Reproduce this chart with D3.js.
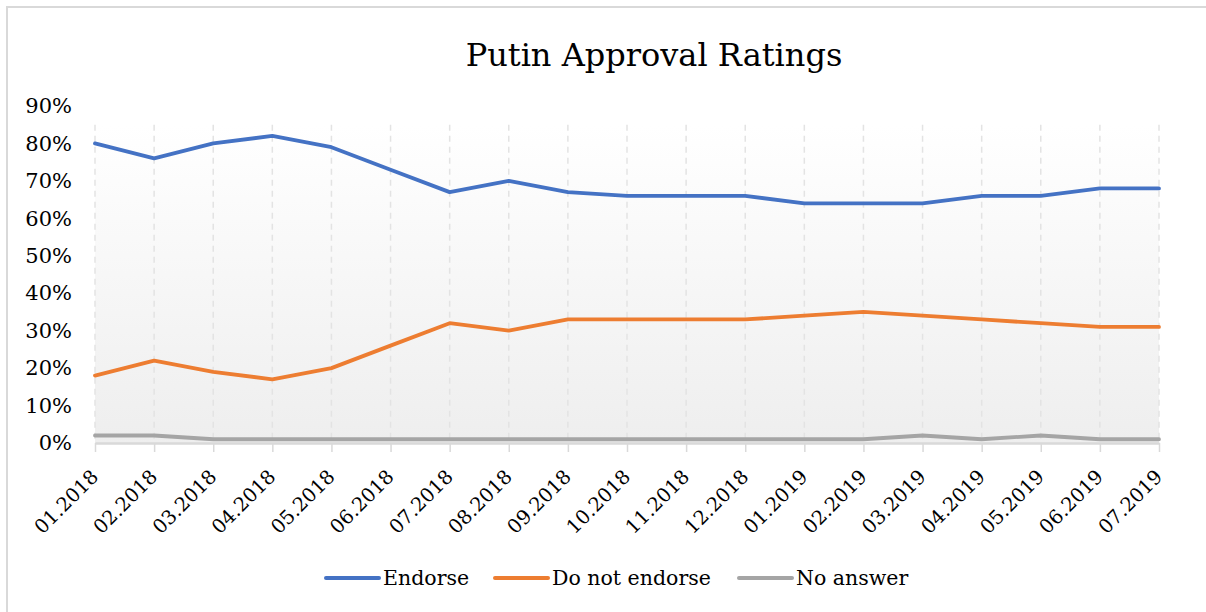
<!DOCTYPE html>
<html><head><meta charset="utf-8">
<script src="https://cdn.jsdelivr.net/npm/d3@7/dist/d3.min.js"></script>
<style>html,body{margin:0;padding:0;background:#fff;}svg{display:block;}</style>
</head><body>
<svg id="c" width="1206" height="612"></svg>
<script>
const categories = ["01.2018","02.2018","03.2018","04.2018","05.2018","06.2018","07.2018","08.2018","09.2018","10.2018","11.2018","12.2018","01.2019","02.2019","03.2019","04.2019","05.2019","06.2019","07.2019"];
const endorse    = [80,76,80,82,79,73,67,70,67,66,66,66,64,64,64,66,66,68,68];
const notEndorse = [18,22,19,17,20,26,32,30,33,33,33,33,34,35,34,33,32,31,31];
const noAnswer   = [2,2,1,1,1,1,1,1,1,1,1,1,1,1,2,1,2,1,1];
const yTicks = [0,10,20,30,40,50,60,70,80,90];
const seriesNames = ["Endorse","Do not endorse","No answer"];
const seriesColors = ["#4472C4","#ED7D31","#A5A5A5"];
const title = "Putin Approval Ratings";

const FONT = "'DejaVu Serif', serif";
const svg = d3.select("#c");

// chart border
svg.append("path").attr("d","M7,612 L7,7 L1206,7").attr("fill","none").attr("stroke","#d9d9d9").attr("stroke-width",2);

const x = d3.scalePoint().domain(categories).range([95,1159]);
const y = d3.scaleLinear().domain([0,90]).range([443,106]);

// gradient background
const defs = svg.append("defs");
const g = defs.append("linearGradient").attr("id","bg").attr("x1",0).attr("y1",0).attr("x2",0).attr("y2",1);
g.append("stop").attr("offset","0%").attr("stop-color","#ffffff");
g.append("stop").attr("offset","100%").attr("stop-color","#eeeeee");
svg.append("rect").attr("x",x(categories[0])).attr("y",y(85))
  .attr("width",x(categories[categories.length-1])-x(categories[0]))
  .attr("height",y(0)-y(85)).attr("fill","url(#bg)");

// dashed vertical gridlines
svg.append("g").selectAll("line").data(categories).join("line")
  .attr("x1",d=>x(d)).attr("x2",d=>x(d)).attr("y1",y(85)).attr("y2",y(0))
  .attr("stroke","#e3e3e3").attr("stroke-width",1.5).attr("stroke-dasharray","6,5");

// x axis
const xAxis = svg.append("g").attr("transform",`translate(0,${y(0)})`)
  .call(d3.axisBottom(x).tickSize(9).tickSizeOuter(0));
xAxis.select(".domain").attr("stroke","#d9d9d9").attr("stroke-width",2.5);
xAxis.selectAll(".tick line").attr("stroke","#d9d9d9").attr("stroke-width",1.5);
xAxis.selectAll(".tick text")
  .attr("font-family",FONT).attr("font-size",19.5).attr("fill","#000")
  .attr("text-anchor","end").attr("dy",0).attr("y",0)
  .attr("transform","translate(4,35) rotate(-45)");

// y axis
const yAxis = svg.append("g").attr("transform","translate(72,0)")
  .call(d3.axisLeft(y).tickValues(yTicks).tickSize(0).tickFormat(d=>d+"%"));
yAxis.select(".domain").remove();
yAxis.selectAll(".tick text").attr("font-family",FONT).attr("font-size",21).attr("fill","#000").attr("x",0);

// lines
const allSeries = [endorse, notEndorse, noAnswer];
const line = d3.line().x((d,i)=>x(categories[i])).y(d=>y(d));
[2,1,0].forEach(k=>{
  svg.append("path").datum(allSeries[k]).attr("d",line)
    .attr("fill","none").attr("stroke",seriesColors[k]).attr("stroke-width",3.8)
    .attr("stroke-linecap","round").attr("stroke-linejoin","round");
});

// title
svg.append("text").attr("x",654).attr("y",66).attr("text-anchor","middle")
  .attr("font-family",FONT).attr("font-size",32).attr("fill","#000").text(title);

// legend
const legX = [326,495,739];
seriesNames.forEach((n,k)=>{
  svg.append("line").attr("x1",legX[k]).attr("x2",legX[k]+53).attr("y1",578).attr("y2",578)
    .attr("stroke",seriesColors[k]).attr("stroke-width",4).attr("stroke-linecap","round");
  svg.append("text").attr("x",legX[k]+57).attr("y",585).attr("font-family",FONT)
    .attr("font-size",20.5).attr("fill","#000").text(n);
});
</script>
</body></html>
